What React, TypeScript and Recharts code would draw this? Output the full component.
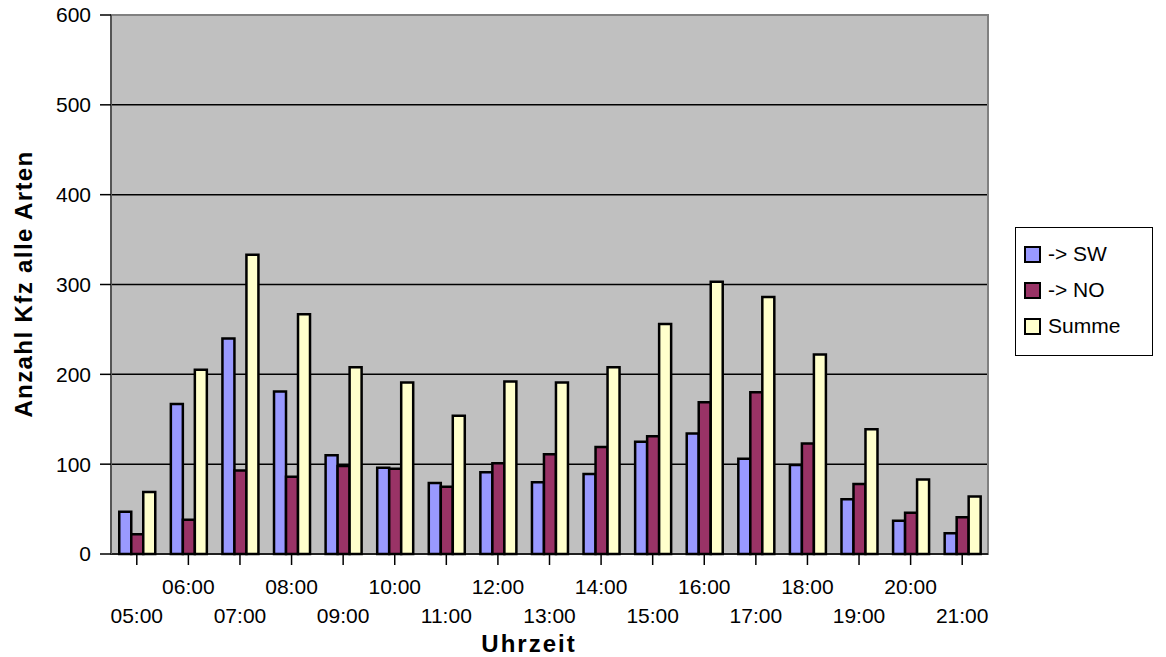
import React from "react";
import { BarChart, Bar, XAxis, YAxis, CartesianGrid, Legend, ReferenceArea } from "recharts";

// Uhrzeit (Stundenbeginn)
const HOURS = [
  "05:00", "06:00", "07:00", "08:00", "09:00", "10:00", "11:00", "12:00", "13:00",
  "14:00", "15:00", "16:00", "17:00", "18:00", "19:00", "20:00", "21:00",
];

const SW = [47, 167, 240, 181, 110, 96, 79, 91, 80, 89, 125, 134, 106, 99, 61, 37, 23];
const NO = [22, 38, 93, 86, 98, 95, 75, 101, 111, 119, 131, 169, 180, 123, 78, 46, 41];
const SUMME = [69, 205, 333, 267, 208, 191, 154, 192, 191, 208, 256, 303, 286, 222, 139, 83, 64];

const Y_TICKS = [0, 100, 200, 300, 400, 500, 600];

const SERIES = [
  { key: "sw", name: "-> SW", color: "#9999FF" },
  { key: "no", name: "-> NO", color: "#993366" },
  { key: "summe", name: "Summe", color: "#FFFFCC" },
];

const data = HOURS.map((h, i) => ({ hour: h, sw: SW[i], no: NO[i], summe: SUMME[i] }));

const FONT = "'Liberation Sans', Arial, sans-serif";

function HourTick(props: { x?: number; y?: number; index?: number; payload?: { value: string } }) {
  const { x = 0, y = 0, index = 0, payload } = props;
  // Excel staggers the labels: odd entries on the upper row
  const dy = index % 2 === 1 ? 29 : 58;
  return (
    <text x={x} y={y + dy} textAnchor="middle" fontSize={21} fontFamily={FONT} fill="#000">
      {payload?.value}
    </text>
  );
}

function ChartLegend() {
  return (
    <div
      style={{
        border: "1px solid #000",
        background: "#fff",
        width: 136,
        height: 119,
        fontFamily: FONT,
        fontSize: 21,
        paddingTop: 8,
      }}
    >
      {SERIES.map((s) => (
        <div key={s.key} style={{ display: "flex", alignItems: "center", height: 36, paddingLeft: 8 }}>
          <span
            style={{
              display: "inline-block",
              width: 13,
              height: 13,
              background: s.color,
              border: "2px solid #000",
              marginRight: 7,
            }}
          />
          <span>{s.name}</span>
        </div>
      ))}
    </div>
  );
}

export default function App() {
  return (
    <div style={{ position: "absolute", left: 0, top: 0, width: 1166, height: 657, background: "#fff" }}>
      <BarChart
        width={1166}
        height={657}
        data={data}
        margin={{ top: 15, right: 40, bottom: 73, left: 0 }}
        barCategoryGap="16%"
        barGap={0}
      >
        <CartesianGrid vertical={false} stroke="#000" strokeWidth={1.5} fill="#C0C0C0" />
        <ReferenceArea y1={0} y2={600} fill="none" stroke="#808080" strokeWidth={2} ifOverflow="visible" />
        <XAxis
          dataKey="hour"
          interval={0}
          tickSize={11}
          tickMargin={0}
          tickLine={{ stroke: "#000", strokeWidth: 1.5 }}
          axisLine={{ stroke: "#000", strokeWidth: 1.5 }}
          tick={<HourTick />}
          label={{
            content: () => (
              <text x={529} y={652} textAnchor="middle" fontSize={24} fontWeight="bold" fontFamily={FONT} letterSpacing={2}>
                Uhrzeit
              </text>
            ),
          }}
        />
        <YAxis
          width={111}
          domain={[0, 600]}
          ticks={Y_TICKS}
          interval={0}
          tickSize={11}
          tickMargin={9}
          tickLine={{ stroke: "#000", strokeWidth: 1.5 }}
          axisLine={{ stroke: "#555", strokeWidth: 2 }}
          tick={{ fontSize: 21, fontFamily: FONT, fill: "#000" }}
          label={{
            content: () => (
              <text
                x={32}
                y={284}
                textAnchor="middle"
                transform="rotate(-90 32 284)"
                fontSize={24}
                fontWeight="bold"
                fontFamily={FONT}
                letterSpacing={1.4}
              >
                Anzahl Kfz alle Arten
              </text>
            ),
          }}
        />
        <Legend
          layout="vertical"
          align="right"
          verticalAlign="middle"
          content={<ChartLegend />}
          wrapperStyle={{ left: 1015, top: 227, width: 138, bottom: "auto", right: "auto" }}
        />
        {SERIES.map((s) => (
          <Bar
            key={s.key}
            dataKey={s.key}
            name={s.name}
            fill={s.color}
            stroke="#000"
            strokeWidth={2.5}
            isAnimationActive={false}
          />
        ))}
      </BarChart>
    </div>
  );
}
